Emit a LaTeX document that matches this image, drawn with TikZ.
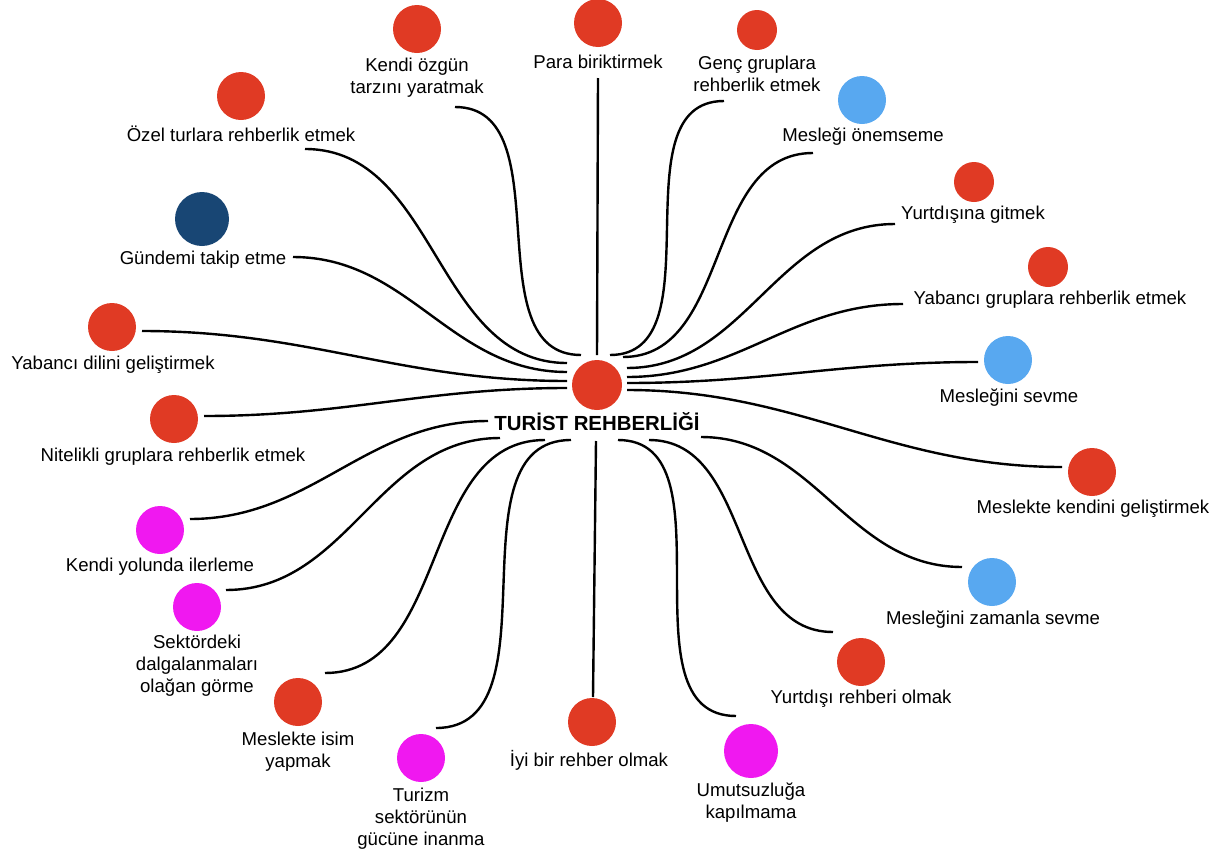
\documentclass[tikz,border=0pt]{standalone}
\usepackage{fontspec}
\setmainfont{Liberation Sans}
\definecolor{dotred}{RGB}{224,58,36}
\definecolor{dotblue}{RGB}{88,168,240}
\definecolor{dotpink}{RGB}{240,24,240}
\definecolor{dotnavy}{RGB}{24,70,116}
\tikzset{
  spot/.style={circle, fill=#1, inner sep=0pt, minimum size=24pt},
  lbl/.style={font=\fontsize{9.3}{11}\selectfont, align=center, inner sep=0pt},
  link/.style={line width=1.2pt, black},
}
\begin{document}
\begin{tikzpicture}[x=0.5pt, y=-0.5pt]
        \useasboundingbox (0,0) rectangle (1217,857);

        % hub
        \node[spot=dotred, minimum size=25pt] (hub) at (597,385) {};
        \node[font=\bfseries\fontsize{10.2}{12}\selectfont, inner sep=0pt] (hubT) at (597,422) {TURİST REHBERLİĞİ};

        % dots and labels
        \node[spot=dotred] (ozgun) at (417,29) {};
        \node[lbl] (ozgunT) at (417,78) {Kendi özgün\\tarzını yaratmak};
        \node[spot=dotred] (para) at (598,23) {};
        \node[lbl] (paraT) at (598,62) {Para biriktirmek};
        \node[spot=dotred, minimum size=20pt] (genc) at (757,30) {};
        \node[lbl] (gencT) at (757,74) {Genç gruplara\\rehberlik etmek};
        \node[spot=dotblue] (onem) at (862,100) {};
        \node[lbl] (onemT) at (863,137) {Mesleği önemseme};
        \node[spot=dotred, minimum size=20pt] (yurt) at (974,182) {};
        \node[lbl] (yurtT) at (973,215) {Yurtdışına gitmek};
        \node[spot=dotred, minimum size=20pt] (ygrup) at (1048,267) {};
        \node[lbl] (ygrupT) at (1050,300) {Yabancı gruplara rehberlik etmek};
        \node[spot=dotblue] (sevme) at (1008,360) {};
        \node[lbl] (sevmeT) at (1009,398) {Mesleğini sevme};
        \node[spot=dotred] (gelis) at (1092,472) {};
        \node[lbl] (gelisT) at (1093,509) {Meslekte kendini geliştirmek};
        \node[spot=dotblue] (zaman) at (992,582) {};
        \node[lbl] (zamanT) at (993,620) {Mesleğini zamanla sevme};
        \node[spot=dotred] (yrehb) at (861,662) {};
        \node[lbl] (yrehbT) at (861,699) {Yurtdışı rehberi olmak};
        \node[spot=dotpink, minimum size=27pt] (umut) at (751,751) {};
        \node[lbl] (umutT) at (751,803) {Umutsuzluğa\\kapılmama};
        \node[spot=dotred] (iyi) at (592,722) {};
        \node[lbl] (iyiT) at (589,760) {İyi bir rehber olmak};
        \node[spot=dotpink] (turizm) at (421,758) {};
        \node[lbl] (turizmT) at (421,819) {Turizm\\sektörünün\\gücüne inanma};
        \node[spot=dotred] (isim) at (298,702) {};
        \node[lbl] (isimT) at (298,752) {Meslekte isim\\yapmak};
        \node[spot=dotpink] (dalga) at (197,607) {};
        \node[lbl] (dalgaT) at (197,666) {Sektördeki\\dalgalanmaları\\olağan görme};
        \node[spot=dotpink] (yol) at (160,530) {};
        \node[lbl] (yolT) at (160,567) {Kendi yolunda ilerleme};
        \node[spot=dotred] (nitel) at (174,419) {};
        \node[lbl] (nitelT) at (173,457) {Nitelikli gruplara rehberlik etmek};
        \node[spot=dotred] (dil) at (112,327) {};
        \node[lbl] (dilT) at (113,365) {Yabancı dilini geliştirmek};
        \node[spot=dotnavy, minimum size=27pt] (gundem) at (202,219) {};
        \node[lbl] (gundemT) at (203,260) {Gündemi takip etme};
        \node[spot=dotred] (ozel) at (241,96) {};
        \node[lbl] (ozelT) at (241,134) {Özel turlara rehberlik etmek};

        % connector ends
        \coordinate (ozgunA) at (455,107);  \coordinate (ozgunB) at (581,355);
        \coordinate (paraA) at (598,78);    \coordinate (paraB) at (597,355);
        \coordinate (gencA) at (724,101);   \coordinate (gencB) at (610,355);
        \coordinate (onemA) at (813,153);   \coordinate (onemB) at (623,357);
        \coordinate (yurtA) at (895,224);   \coordinate (yurtB) at (627,368);
        \coordinate (ygrupA) at (903,304);  \coordinate (ygrupB) at (627,377);
        \coordinate (sevmeA) at (978,362);  \coordinate (sevmeB) at (627,383);
        \coordinate (gelisA) at (1062,467); \coordinate (gelisB) at (627,390);
        \coordinate (zamanA) at (962,567);  \coordinate (zamanB) at (701,437);
        \coordinate (yrehbA) at (833,632);  \coordinate (yrehbB) at (649,440);
        \coordinate (umutA) at (736,716);   \coordinate (umutB) at (618,440);
        \coordinate (iyiA) at (593,697);    \coordinate (iyiB) at (596,441);
        \coordinate (turizmA) at (436,728); \coordinate (turizmB) at (571,440);
        \coordinate (isimA) at (325,673);   \coordinate (isimB) at (545,440);
        \coordinate (dalgaA) at (226,590);  \coordinate (dalgaB) at (500,438);
        \coordinate (yolA) at (190,519);    \coordinate (yolB) at (488,421);
        \coordinate (nitelA) at (204,416);  \coordinate (nitelB) at (567,388);
        \coordinate (dilA) at (142,331);    \coordinate (dilB) at (567,381);
        \coordinate (gundemA) at (293,257); \coordinate (gundemB) at (567,372);
        \coordinate (ozelA) at (305,149);   \coordinate (ozelB) at (567,363);

        % left side
        \draw[link] (ozgunA) to[out=0, in=180] (ozgunB);
        \draw[link] (ozelA) to[out=0, in=180] (ozelB);
        \draw[link] (gundemA) to[out=0, in=180] (gundemB);
        \draw[link] (dilA) to[out=0, in=180] (dilB);
        \draw[link] (nitelA) to[out=0, in=180] (nitelB);
        \draw[link] (yolA) to[out=0, in=180] (yolB);
        \draw[link] (dalgaA) to[out=0, in=180] (dalgaB);
        \draw[link] (isimA) to[out=0, in=180] (isimB);
        \draw[link] (turizmA) to[out=0, in=180] (turizmB);

        % straight ones
        \draw[link] (paraA) -- (paraB);
        \draw[link] (iyiA) -- (iyiB);

        % right side
        \draw[link] (gencA) to[out=180, in=0] (gencB);
        \draw[link] (onemA) to[out=180, in=0] (onemB);
        \draw[link] (yurtA) to[out=180, in=0] (yurtB);
        \draw[link] (ygrupA) to[out=180, in=0] (ygrupB);
        \draw[link] (sevmeA) to[out=180, in=0] (sevmeB);
        \draw[link] (gelisA) to[out=180, in=0] (gelisB);
        \draw[link] (zamanA) to[out=180, in=0] (zamanB);
        \draw[link] (yrehbA) to[out=180, in=0] (yrehbB);
        \draw[link] (umutA) to[out=180, in=0] (umutB);
    \end{tikzpicture}
\end{document}
